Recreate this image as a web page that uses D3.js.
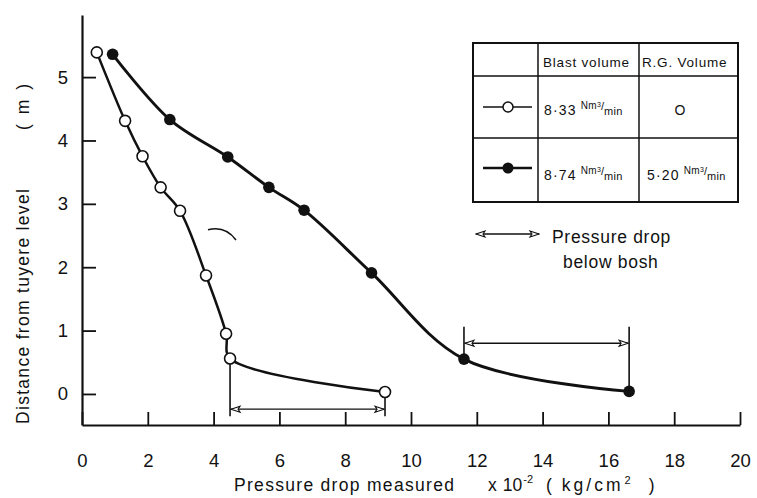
<!DOCTYPE html>
<html>
<head>
<meta charset="utf-8">
<script src="https://cdn.jsdelivr.net/npm/d3@7/dist/d3.min.js"></script>
<style>
  html, body { margin: 0; padding: 0; background: #fff; }
  svg { display: block; }
  text { font-family: "Liberation Sans", Arial, sans-serif; fill: #111; }
</style>
</head>
<body>
<svg id="chart" width="757" height="498"></svg>
<script>
// Pressure drop vs. distance from tuyere level, two blast conditions
const xTicks = [0, 2, 4, 6, 8, 10, 12, 14, 16, 18, 20];
const yTicks = [0, 1, 2, 3, 4, 5];

// 8·33 Nm3/min blast, no reducing gas (open circles)
const openX = [0.45, 1.31, 1.84, 2.39, 2.98, 3.77, 4.38, 4.50, 9.21];
const openY = [5.39, 4.31, 3.75, 3.26, 2.89, 1.87, 0.95, 0.56, 0.03];

// 8·74 Nm3/min blast, 5·20 Nm3/min reducing gas (filled circles)
const filledX = [0.93, 2.67, 4.43, 5.68, 6.75, 8.80, 11.61, 16.63];
const filledY = [5.36, 4.33, 3.74, 3.26, 2.90, 1.91, 0.55, 0.04];

// "pressure drop below bosh" spans: [from, to, arrow level, end of extension line]
const spanFrom   = [openX[7], filledX[6]];
const spanTo     = [openX[8], filledX[7]];
const spanArrowY = [-0.24, 0.80];
const spanLineY  = [-0.35, 1.06];

const svg = d3.select("#chart");

const x = d3.scaleLinear().domain([0, 20]).range([82, 740]);
const y = d3.scaleLinear().domain([-0.49, 5.98]).range([425, 15]);

// arrowhead used by the span arrows
const defs = svg.append("defs");
defs.append("marker")
  .attr("id", "head")
  .attr("viewBox", "-11 -5 12 10")
  .attr("refX", 0).attr("refY", 0)
  .attr("markerWidth", 12).attr("markerHeight", 10)
  .attr("markerUnits", "userSpaceOnUse")
  .attr("orient", "auto-start-reverse")
  .append("path")
  .attr("d", "M-9,-3 L0,0 L-9,3 L-7,0 Z")
  .attr("fill", "#fff").attr("stroke", "#111").attr("stroke-width", 1.1);

// axes: ticks point inward
const xAxis = d3.axisBottom(x).tickValues(xTicks).tickFormat(d3.format("d"))
  .tickSizeInner(-13).tickSizeOuter(0).tickPadding(29);
const yAxis = d3.axisLeft(y).tickValues(yTicks).tickFormat(d3.format("d"))
  .tickSizeInner(-14).tickSizeOuter(0).tickPadding(14);

const gx = svg.append("g").attr("transform", `translate(0,${y(-0.49)})`).call(xAxis);
const gy = svg.append("g").attr("transform", `translate(${x(0)},0)`).call(yAxis);

[gx, gy].forEach(g => {
  g.select(".domain").attr("stroke", "#111").attr("stroke-width", 2.2);
  g.selectAll(".tick line").attr("stroke", "#111").attr("stroke-width", 1.8);
  g.selectAll(".tick text")
    .attr("font-family", "Liberation Sans, Arial, sans-serif")
    .attr("font-size", 18.5).attr("fill", "#111");
});

// axis titles
svg.append("text")
  .attr("x", 234).attr("y", 491)
  .attr("font-size", 17.5).attr("letter-spacing", 1.3)
  .text("Pressure drop measured");
const unit = svg.append("text")
  .attr("x", 488).attr("y", 491)
  .attr("font-size", 17.5);
unit.append("tspan").text("x");
unit.append("tspan").attr("dx", 6).text("10");
unit.append("tspan").attr("font-size", 11).attr("dy", -8).attr("dx", 1).text("-2");
unit.append("tspan").attr("dy", 8).attr("dx", 13).text("(");
unit.append("tspan").attr("dx", 10).attr("letter-spacing", 3).text("kg/cm");
unit.append("tspan").attr("font-size", 11).attr("dx", 1).attr("dy", -7).attr("letter-spacing", 0).text("2");
unit.append("tspan").attr("dy", 7).attr("dx", 18).text(")");

svg.append("text")
  .attr("transform", "translate(29,424) rotate(-90)")
  .attr("font-size", 17.5).attr("letter-spacing", 1.3)
  .text("Distance from tuyere level");
svg.append("text")
  .attr("transform", "translate(29,130) rotate(-90)")
  .attr("font-size", 17.5).attr("word-spacing", 5)
  .text("( m )");

// curves
const lineGen = d3.line().x(d => x(d[0])).y(d => y(d[1])).curve(d3.curveCatmullRom.alpha(0.5));
const openPts = openX.map((v, i) => [v, openY[i]]);
const filledPts = filledX.map((v, i) => [v, filledY[i]]);

// span extension lines and arrows
spanFrom.forEach((a, i) => {
  const b = spanTo[i];
  const ptY = i === 0 ? openY[7] : filledY[6];
  const ptY2 = i === 0 ? openY[8] : filledY[7];
  const g = svg.append("g").attr("stroke", "#111").attr("stroke-width", 1.6).attr("fill", "none");
  g.append("line").attr("x1", x(a)).attr("x2", x(a)).attr("y1", y(ptY)).attr("y2", y(spanLineY[i]));
  g.append("line").attr("x1", x(b)).attr("x2", x(b)).attr("y1", y(ptY2)).attr("y2", y(spanLineY[i]));
  g.append("line")
    .attr("x1", x(a) + 1).attr("x2", x(b) - 1)
    .attr("y1", y(spanArrowY[i])).attr("y2", y(spanArrowY[i]))
    .attr("stroke-width", 1.3)
    .attr("marker-start", "url(#head)").attr("marker-end", "url(#head)");
});

svg.append("path").datum(openPts).attr("d", lineGen)
  .attr("fill", "none").attr("stroke", "#111").attr("stroke-width", 2.5);
svg.append("path").datum(filledPts).attr("d", lineGen)
  .attr("fill", "none").attr("stroke", "#111").attr("stroke-width", 2.9);

svg.selectAll(".open").data(openPts).join("circle")
  .attr("class", "open")
  .attr("cx", d => x(d[0])).attr("cy", d => y(d[1])).attr("r", 5.5)
  .attr("fill", "#fff").attr("stroke", "#111").attr("stroke-width", 1.6);
svg.selectAll(".filled").data(filledPts).join("circle")
  .attr("class", "filled")
  .attr("cx", d => x(d[0])).attr("cy", d => y(d[1])).attr("r", 5.8)
  .attr("fill", "#111");

// small pencil stroke in the open area
const strokeX = [3.83, 4.35, 4.68];
const strokeY = [2.59, 2.66, 2.43];
svg.append("path")
  .attr("d", `M${x(strokeX[0])},${y(strokeY[0])} Q${x(strokeX[1])},${y(strokeY[1])} ${x(strokeX[2])},${y(strokeY[2])}`)
  .attr("fill", "none").attr("stroke", "#111").attr("stroke-width", 1.6);

// legend table
const T = { l: 473, r: 738, t: 43, b: 202, c1: 538, c2: 639, r1: 76, r2: 138 };
const tg = svg.append("g").attr("stroke", "#111").attr("fill", "none");
tg.append("rect").attr("x", T.l).attr("y", T.t).attr("width", T.r - T.l).attr("height", T.b - T.t).attr("stroke-width", 2);
[T.c1, T.c2].forEach(cx => tg.append("line").attr("x1", cx).attr("x2", cx).attr("y1", T.t).attr("y2", T.b).attr("stroke-width", 1.5));
[T.r1, T.r2].forEach(ry => tg.append("line").attr("x1", T.l).attr("x2", T.r).attr("y1", ry).attr("y2", ry).attr("stroke-width", 1.5));

const small = (sx, sy, s) => svg.append("text").attr("x", sx).attr("y", sy)
  .attr("font-size", 13.5).attr("letter-spacing", 0.8).text(s);
small(543, 67, "Blast volume");
small(642, 67, "R.G. Volume");

function valueCell(vx, vy, num) {
  const t = svg.append("text").attr("x", vx).attr("y", vy).attr("font-size", 14).attr("letter-spacing", 1.2);
  t.append("tspan").text(num);
  t.append("tspan").attr("dx", 4).attr("dy", -6).attr("font-size", 10).attr("letter-spacing", 0.3).text("Nm");
  t.append("tspan").attr("dy", -2).attr("font-size", 7).attr("letter-spacing", 0).text("3");
  t.append("tspan").attr("dy", 3).attr("font-size", 11).attr("letter-spacing", 0).text("/");
  t.append("tspan").attr("dy", 5).attr("font-size", 11).attr("letter-spacing", 0.3).text("min");
}
valueCell(544, 115, "8·33");
valueCell(544, 180, "8·74");
valueCell(647, 180, "5·20");
svg.append("text").attr("x", 680).attr("y", 115).attr("text-anchor", "middle").attr("font-size", 14).text("O");

// legend symbols
const symY = [107, 168];
svg.append("line").attr("x1", 483).attr("x2", 532).attr("y1", symY[0]).attr("y2", symY[0]).attr("stroke", "#111").attr("stroke-width", 1.5);
svg.append("circle").attr("cx", 508).attr("cy", symY[0]).attr("r", 5).attr("fill", "#fff").attr("stroke", "#111").attr("stroke-width", 1.5);
svg.append("line").attr("x1", 483).attr("x2", 532).attr("y1", symY[1]).attr("y2", symY[1]).attr("stroke", "#111").attr("stroke-width", 2.5);
svg.append("circle").attr("cx", 508).attr("cy", symY[1]).attr("r", 5.5).attr("fill", "#111");

// span key
svg.append("line").attr("x1", 476).attr("x2", 539).attr("y1", 234).attr("y2", 234)
  .attr("stroke", "#111").attr("stroke-width", 1.3)
  .attr("marker-start", "url(#head)").attr("marker-end", "url(#head)");
svg.append("text").attr("x", 552).attr("y", 243).attr("font-size", 17.5).attr("letter-spacing", 0.7).text("Pressure drop");
svg.append("text").attr("x", 563).attr("y", 268).attr("font-size", 17.5).attr("letter-spacing", 0.7).text("below bosh");
</script>
</body>
</html>
